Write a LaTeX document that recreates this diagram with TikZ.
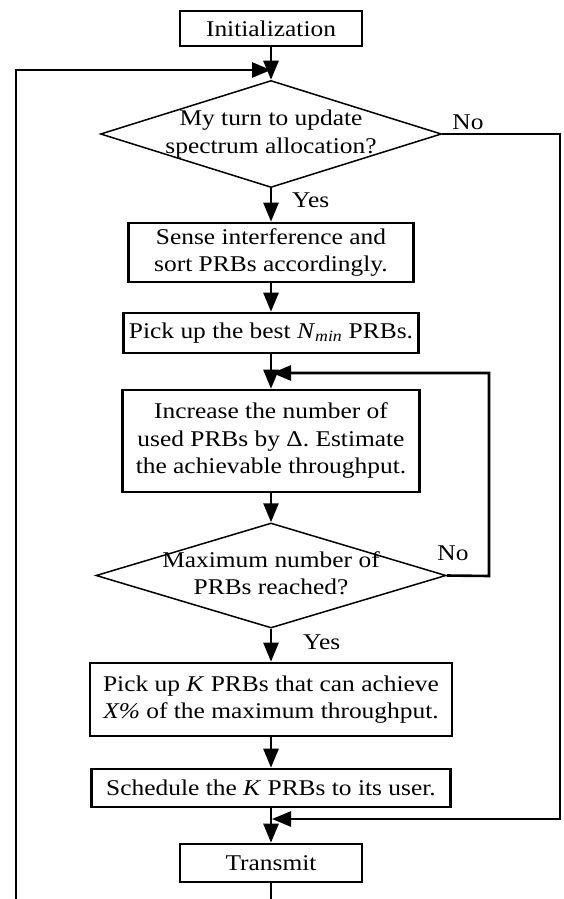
\documentclass[tikz,border=0pt]{standalone}
\usepackage{fontspec}
\setmainfont{Liberation Serif}[FakeStretch=1.13]
\usetikzlibrary{arrows.meta,shapes.geometric}
\begin{document}
\begin{tikzpicture}[x=1pt,y=-1pt,
  every node/.style={font=\fontsize{22.5}{27.5}\selectfont},
  box/.style={draw, line width=2.6pt, rectangle, inner sep=0pt, align=center},
  dec/.style={draw, line width=1.5pt, diamond, inner sep=0pt},
  conn/.style={line width=2.6pt},
  arr/.style={conn, -{Triangle[length=19pt,width=15pt]}},
  lbl/.style={inner sep=0pt}]
\useasboundingbox (0,0) rectangle (563,899);
\node[box, minimum width=182pt, minimum height=35pt] (init) at (271,28.5) {Initialization};
\node[dec, minimum width=341pt, minimum height=107pt] (d1) at (271,134) {\makebox[0pt]{\begin{tabular}{@{}c@{}}My turn to update\\spectrum allocation?\end{tabular}}};
\node[box, minimum width=285pt, minimum height=59pt] (b2) at (271,252.5) {Sense interference and\\sort PRBs accordingly.};
\node[box, minimum width=295pt, minimum height=40pt] (b3) at (271,333) {Pick up the best \textit{N}\textsubscript{\textit{min}} PRBs.};
\node[box, minimum width=297pt, minimum height=102pt] (b4) at (271,441) {Increase the number of\\used PRBs by Δ. Estimate\\the achievable throughput.};
\node[dec, minimum width=350pt, minimum height=105pt] (d2) at (271,575.5) {\makebox[0pt]{\begin{tabular}{@{}c@{}}Maximum number of\\PRBs reached?\end{tabular}}};
\node[box, minimum width=362pt, minimum height=73pt] (b5) at (271,699.5) {Pick up \textit{K} PRBs that can achieve\\\textit{X\%} of the maximum throughput.};
\node[box, minimum width=359pt, minimum height=38pt] (b6) at (271,788) {Schedule the \textit{K} PRBs to its user.};
\node[box, minimum width=182pt, minimum height=38pt] (tx) at (271,863) {Transmit};
\node[lbl, anchor=west] (yes1) at (292,200) {Yes};
\node[lbl] (no1) at (468,122) {No};
\node[lbl, anchor=west] (yes2) at (303,642) {Yes};
\node[lbl] (no2) at (453,553) {No};
\coordinate (loopin) at (271,70);
\coordinate (bl) at (16,899);
\coordinate (bot) at (271,899);
\coordinate (r1) at (560,134);
\coordinate (m1) at (272,819);
\coordinate (r2) at (489,576);
\coordinate (m2) at (272,373);
\draw[arr] (init.south) -- (d1.north);
\draw[arr] (bl) |- (loopin);
\draw[arr] (d1.south) -- (b2.north);
\draw[arr] (b2.south) -- (b3.north);
\draw[arr] (b3.south) -- (b4.north);
\draw[arr] (b4.south) -- (d2.north);
\draw[arr] (d2.south) -- (b5.north);
\draw[arr] (b5.south) -- (b6.north);
\draw[arr] (b6.south) -- (tx.north);
\draw[conn] (tx.south) -- (bot);
\draw[arr] (d1.east) -- (r1) |- (m1);
\draw[arr] (d2.east) -- (r2) |- (m2);
\end{tikzpicture}
\end{document}
